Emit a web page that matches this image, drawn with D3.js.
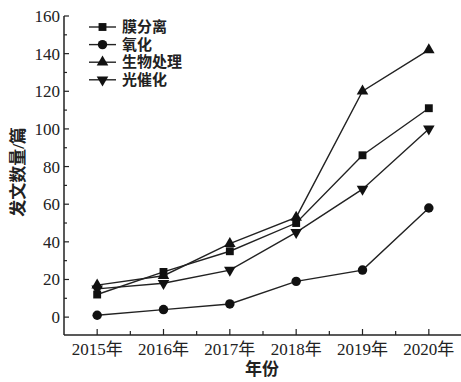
<!DOCTYPE html>
<html>
<head>
<meta charset="utf-8">
<script src="https://cdn.jsdelivr.net/npm/d3@7"></script>
<style>
  html, body { margin: 0; padding: 0; background: #fff; }
  svg { display: block; }
  text { fill: #222; }
</style>
</head>
<body>
<svg id="chart" width="461" height="382"></svg>
<script>
// Publication counts per year for four treatment technologies
const years = [2015, 2016, 2017, 2018, 2019, 2020];
const yearLabels = ["2015年", "2016年", "2017年", "2018年", "2019年", "2020年"];
const seriesNames = ["膜分离", "氧化", "生物处理", "光催化"];
const membrane = [12, 24, 35, 50, 86, 111];
const oxidation = [1, 4, 7, 19, 25, 58];
const biological = [17, 22, 39, 53, 120, 142];
const photocatalysis = [15, 18, 25, 45, 68, 100];
const yTicks = [0, 20, 40, 60, 80, 100, 120, 140, 160];
const xTitle = "年份";
const yTitle = "发文数量/篇";

const series = [
  { name: seriesNames[0], values: membrane, symbol: d3.symbolSquare, size: 62, rot: 0 },
  { name: seriesNames[1], values: oxidation, symbol: d3.symbolCircle, size: 70, rot: 0 },
  { name: seriesNames[2], values: biological, symbol: d3.symbolTriangle, size: 58, rot: 0 },
  { name: seriesNames[3], values: photocatalysis, symbol: d3.symbolTriangle, size: 58, rot: 180 }
];

const svg = d3.select("#chart");
const ink = "#222";
const serif = "'Liberation Serif', 'Times New Roman', 'Noto Sans CJK SC', serif";

const x = d3.scaleLinear().domain([2014.5, 2020.5]).range([64, 462]);
const y = d3.scaleLinear().domain([-9.5, 160]).range([335, 16]);

// Left axis with inward ticks
const yAxis = svg.append("g").attr("transform", `translate(${x(2014.5)},0)`);
yAxis.append("line").attr("x1", 0).attr("x2", 0).attr("y1", y(-9.5)).attr("y2", y(160))
  .attr("stroke", ink).attr("stroke-width", 1.5);
yAxis.selectAll(".major").data(yTicks).join("line")
  .attr("x1", 0).attr("x2", 5).attr("y1", d => y(d)).attr("y2", d => y(d))
  .attr("stroke", ink).attr("stroke-width", 1.2);
yAxis.selectAll(".minor").data(d3.range(10, 160, 20)).join("line")
  .attr("x1", 0).attr("x2", 3).attr("y1", d => y(d)).attr("y2", d => y(d))
  .attr("stroke", ink).attr("stroke-width", 1.2);
yAxis.selectAll("text").data(yTicks).join("text")
  .attr("x", -4).attr("y", d => y(d)).attr("dy", "0.35em")
  .attr("text-anchor", "end").attr("font-family", serif).attr("font-size", 17)
  .text(d => d);

// Bottom axis with inward ticks
const xAxis = svg.append("g").attr("transform", `translate(0,${y(-9.5)})`);
xAxis.append("line").attr("x1", x(2014.5)).attr("x2", 461).attr("y1", 0).attr("y2", 0)
  .attr("stroke", ink).attr("stroke-width", 1.5);
xAxis.selectAll(".major").data(years).join("line")
  .attr("x1", d => x(d)).attr("x2", d => x(d)).attr("y1", 0).attr("y2", -6)
  .attr("stroke", ink).attr("stroke-width", 1.2);
xAxis.selectAll(".minor").data(years.map(d => d + 0.5)).join("line")
  .attr("x1", d => x(d)).attr("x2", d => x(d)).attr("y1", 0).attr("y2", -4)
  .attr("stroke", ink).attr("stroke-width", 1.2);
xAxis.selectAll("text").data(years).join("text")
  .attr("x", d => x(d)).attr("y", 20)
  .attr("text-anchor", "middle").attr("font-family", serif).attr("font-size", 17)
  .text((d, i) => yearLabels[i]);

// Axis titles
svg.append("text").attr("x", 262).attr("y", 375).attr("text-anchor", "middle")
  .attr("font-family", serif).attr("font-size", 17).attr("font-weight", "bold").text(xTitle);
svg.append("text").attr("transform", "translate(24,172) rotate(-90)")
  .attr("text-anchor", "middle").attr("font-family", serif).attr("font-size", 17)
  .attr("font-weight", "bold").text(yTitle);

// Lines and markers
const line = d3.line().x((d, i) => x(years[i])).y(d => y(d));
const sym = s => d3.symbol().type(s.symbol).size(s.size);

series.forEach(s => {
  svg.append("path").attr("d", line(s.values))
    .attr("fill", "none").attr("stroke", ink).attr("stroke-width", 1.4);
  svg.append("g").selectAll("path").data(s.values).join("path")
    .attr("d", sym(s))
    .attr("transform", (d, i) => `translate(${x(years[i])},${y(d)}) rotate(${s.rot})`)
    .attr("fill", "#111");
});

// Legend
const legend = svg.append("g").attr("transform", "translate(89,27)");
series.forEach((s, i) => {
  const g = legend.append("g").attr("transform", `translate(0,${i * 17.6})`);
  g.append("line").attr("x1", 0).attr("x2", 27).attr("y1", 0).attr("y2", 0)
    .attr("stroke", ink).attr("stroke-width", 1.4);
  g.append("path").attr("d", sym(s)).attr("transform", `translate(13.5,0) rotate(${s.rot})`)
    .attr("fill", "#111");
  g.append("text").attr("x", 33).attr("y", 0).attr("dy", "0.35em")
    .attr("font-family", serif).attr("font-size", 15).attr("font-weight", "bold")
    .text(s.name);
});
</script>
</body>
</html>
